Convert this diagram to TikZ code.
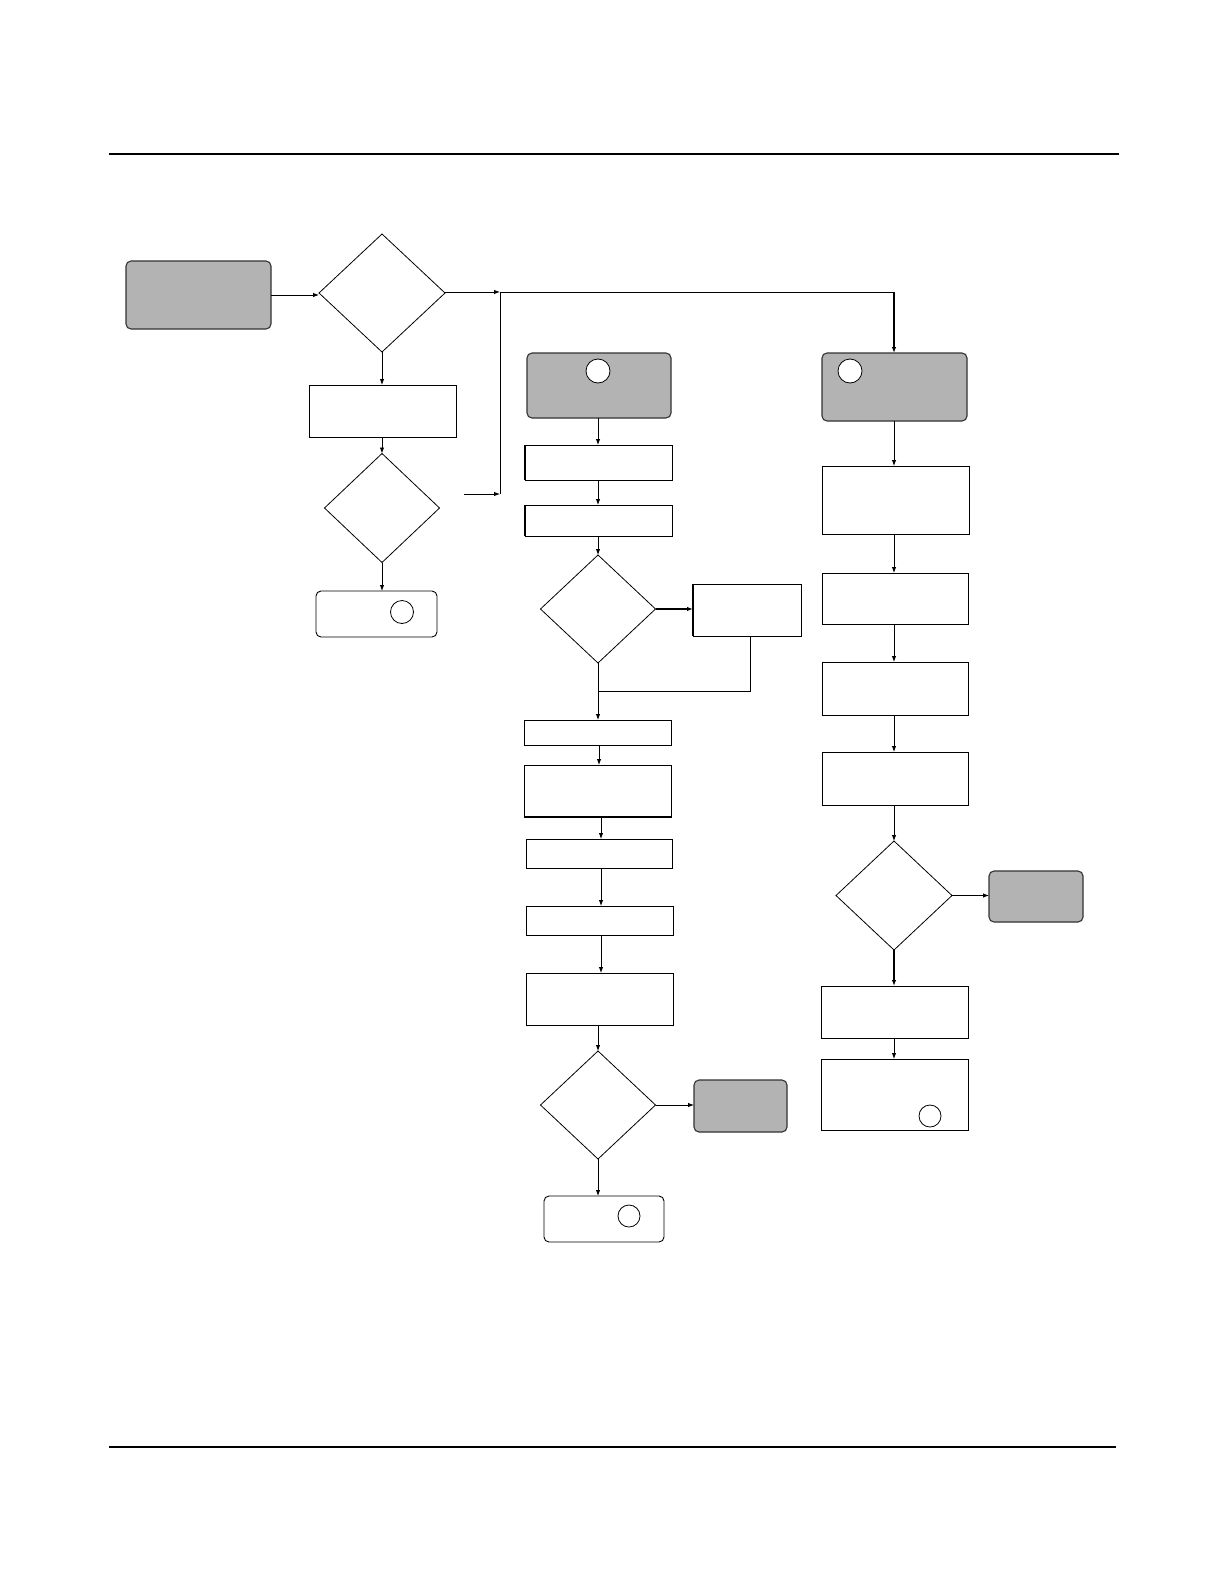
\documentclass[tikz,border=0pt]{standalone}
\usetikzlibrary{shapes.geometric,arrows.meta}
\definecolor{boxgray}{RGB}{179,179,179}
\definecolor{edgegray}{RGB}{50,50,50}
\begin{document}
\begin{tikzpicture}[x=1pt,y=-1pt,
  every node/.style={inner sep=0pt, outer sep=0pt},
  box/.style={draw, rectangle, line width=0.9pt},
  graybox/.style={draw=edgegray, fill=boxgray, rectangle, rounded corners=5pt, line width=1.1pt},
  endbox/.style={draw, rectangle, rounded corners=5pt, line width=0.9pt},
  dia/.style={draw, diamond, aspect=1, line width=0.8pt},
  dot/.style={draw, circle, fill=white, line width=0.8pt},
  arr/.style={-{Latex[length=6pt,width=4.5pt]}, line width=0.9pt},
  ln/.style={line width=0.9pt},
  thickedge/.style={line width=1.7pt}]
\useasboundingbox (0,0) rectangle (1224,1584);
% page rules
\coordinate (t1) at (109,154);
\coordinate (t2) at (1119,154);
\coordinate (u1) at (109,1447);
\coordinate (u2) at (1116,1447);
\draw[line width=1.2pt] (t1) -- (t2);
\draw[line width=2pt] (u1) -- (u2);

% left column
\node[graybox, minimum width=145pt, minimum height=68pt] (start) at (198.5,295) {};
\node[dia, minimum width=126pt, minimum height=118pt] (d1) at (382,293) {};
\node[box, minimum width=147pt, minimum height=52pt] (b1) at (382.5,411) {};
\node[dia, minimum width=115pt, minimum height=109pt] (d2) at (382,508) {};
\node[endbox, minimum width=121pt, minimum height=46pt] (end1) at (376.5,614) {};
\node[dot, minimum size=23pt] (c1) at (402,612) {};

\draw[arr] (start.east |- 0,295) -- (d1.west |- 0,295);
\draw[arr] (d1.south) -- (b1.north -| d1.south);
\draw[arr] (b1.south -| d2.north) -- (d2.north);
\draw[arr] (d2.south) -- (end1.north -| d2.south);

% junction lines
\coordinate (j1) at (500,292);
\coordinate (j2) at (500,494);
\coordinate (j0) at (464,494);
\coordinate (j3) at (894,292);
\draw[arr] (d1.east |- j1) -- (j1);
\draw[ln] (j1) -- (j2);
\draw[arr] (j0) -- (j2);
\draw[ln] (j1) -- (j3);

% middle column
\node[graybox, minimum width=144pt, minimum height=65pt] (g2) at (599,385.5) {};
\node[dot, minimum size=24pt] (c2) at (598,371) {};
\node[box, minimum width=147pt, minimum height=35pt] (A) at (598.5,462.5) {};
\node[box, minimum width=147pt, minimum height=31pt] (B) at (598.5,520.5) {};
\draw[thickedge] (A.north west) -- (A.south west);
\draw[thickedge] (B.north west) -- (B.south west);
\node[dia, minimum width=115pt, minimum height=108pt] (d3) at (598,609) {};
\node[box, minimum width=108pt, minimum height=52pt] (C) at (747,610) {};
\draw[thickedge] (C.north west) -- (C.south west);
\node[box, minimum width=147pt, minimum height=25pt] (D) at (597.5,732.5) {};
\node[box, minimum width=147pt, minimum height=52pt] (E) at (597.5,791) {};
\draw[thickedge] (E.south west) -- (E.south east);
\node[box, minimum width=146pt, minimum height=29pt] (F) at (599,853.5) {};
\node[box, minimum width=147pt, minimum height=29pt] (G) at (599.5,920.5) {};
\node[box, minimum width=147pt, minimum height=52pt] (H) at (599.5,999) {};
\node[dia, minimum width=115pt, minimum height=108pt] (d4) at (598,1105) {};
\node[graybox, minimum width=93pt, minimum height=52pt] (g3) at (740.5,1106) {};
\node[endbox, minimum width=120pt, minimum height=46pt] (end2) at (604,1219) {};
\node[dot, minimum size=22pt] (c3) at (629,1216) {};

\draw[arr] (g2.south -| 598,0) -- (A.north -| 598,0);
\draw[arr] (A.south -| 598,0) -- (B.north -| 598,0);
\draw[arr] (B.south -| d3.north) -- (d3.north);
\draw[arr, line width=1.7pt] (d3.east) -- (C.west |- d3.east);
\coordinate (k1) at (750,691);
\coordinate (k2) at (598,691);
\draw[ln] (C.south -| k1) -- (k1) -- (k2);
\draw[arr] (d3.south) -- (D.north -| d3.south);
\draw[arr] (D.south -| 599,0) -- (E.north -| 599,0);
\draw[arr] (E.south -| 601,0) -- (F.north -| 601,0);
\draw[arr] (F.south -| 601,0) -- (G.north -| 601,0);
\draw[arr] (G.south -| 601,0) -- (H.north -| 601,0);
\draw[arr] (H.south -| d4.north) -- (d4.north);
\draw[arr] (d4.east) -- (g3.west |- d4.east);
\draw[arr] (d4.south) -- (end2.north -| d4.south);

% right column
\node[graybox, minimum width=145pt, minimum height=68pt] (g4) at (894.5,387) {};
\node[dot, minimum size=24pt] (c4) at (850,371) {};
\node[box, minimum width=147pt, minimum height=68pt] (R1) at (895.5,500) {};
\node[box, minimum width=146pt, minimum height=51pt] (R2) at (895,598.5) {};
\node[box, minimum width=146pt, minimum height=53pt] (R3) at (895,688.5) {};
\node[box, minimum width=146pt, minimum height=53pt] (R4) at (895,778.5) {};
\node[dia, minimum width=116pt, minimum height=109pt] (d5) at (894,895.5) {};
\node[graybox, minimum width=94pt, minimum height=51pt] (g5) at (1036,896.5) {};
\node[box, minimum width=147pt, minimum height=52pt] (R5) at (894.5,1012) {};
\node[box, minimum width=147pt, minimum height=71pt] (R6) at (894.5,1094.5) {};
\node[dot, minimum size=22pt] (c5) at (930,1116) {};

\draw[arr, line width=1.7pt] (j3) -- (g4.north -| j3);
\draw[arr] (g4.south -| 894,0) -- (R1.north -| 894,0);
\draw[arr] (R1.south -| 894,0) -- (R2.north -| 894,0);
\draw[arr] (R2.south -| 894,0) -- (R3.north -| 894,0);
\draw[arr] (R3.south -| 894,0) -- (R4.north -| 894,0);
\draw[arr] (R4.south -| d5.north) -- (d5.north);
\draw[arr] (d5.east) -- (g5.west |- d5.east);
\draw[arr, line width=1.7pt] (d5.south) -- (R5.north -| d5.south);
\draw[arr] (R5.south -| 894,0) -- (R6.north -| 894,0);
\end{tikzpicture}
\end{document}
